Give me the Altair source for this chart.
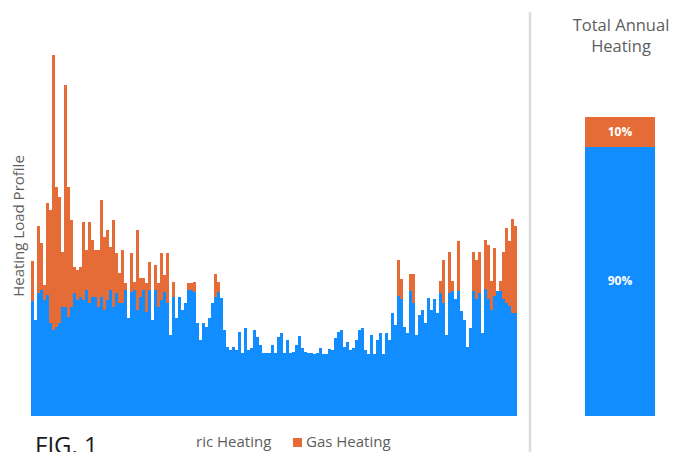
import altair as alt
import pandas as pd

# Hourly-profile bars (arbitrary load units)
ELECTRIC = [115, 96, 123, 126, 116, 121, 93, 86, 89, 93, 109, 109, 99, 109, 123, 116, 119, 116, 126, 113,
            119, 119, 109, 119, 106, 116, 126, 109, 123, 113, 113, 126, 98, 124, 126, 106, 119, 126, 104, 126,
            96, 126, 109, 116, 124, 113, 81, 119, 98, 119, 106, 113, 126, 126, 124, 93, 76, 93, 89, 98,
            113, 119, 124, 118, 86, 69, 66, 69, 66, 84, 63, 88, 66, 68, 86, 79, 71, 63, 63, 63,
            71, 63, 79, 83, 63, 76, 63, 64, 71, 80, 68, 64, 63, 63, 62, 63, 68, 62, 62, 67,
            66, 78, 84, 86, 69, 74, 66, 68, 76, 86, 88, 66, 62, 81, 62, 76, 83, 62, 83, 76,
            103, 91, 120, 117, 89, 83, 125, 113, 81, 101, 106, 93, 118, 106, 117, 103, 123, 113, 81, 123,
            125, 117, 125, 105, 96, 69, 88, 125, 117, 123, 83, 127, 117, 106, 120, 125, 125, 117, 113, 110,
            103, 103]
GAS = [40, 0, 67, 47, 15, 92, 113, 275, 140, 126, 55, 222, 130, 87, 26, 30, 30, 78, 40, 81,
       57, 47, 57, 97, 73, 70, 43, 87, 40, 30, 53, 7, 0, 39, 8, 80, 19, 12, 29, 28,
       0, 25, 24, 47, 17, 50, 0, 15, 0, 0, 0, 0, 7, 7, 10, 0, 0, 0, 0, 0,
       0, 23, 10, 0, 0, 0, 0, 0, 0, 0, 0, 0, 0, 0, 0, 0, 0, 0, 0, 0,
       0, 0, 0, 0, 0, 0, 0, 0, 0, 0, 0, 0, 0, 0, 0, 0, 0, 0, 0, 0,
       0, 0, 0, 0, 0, 0, 0, 0, 0, 0, 0, 0, 0, 0, 0, 0, 0, 0, 0, 0,
       0, 0, 36, 20, 0, 0, 17, 29, 0, 0, 0, 0, 0, 0, 0, 0, 12, 43, 0, 41,
       10, 0, 50, 0, 0, 0, 0, 39, 39, 41, 0, 49, 54, 29, 48, 0, 10, 47, 75, 65,
       94, 87]

SERIES = ["Electric Heating", "Gas Heating"]
COLORS = ["#118DFF", "#E66C37"]
SHARE = [90, 10]
SHARE_LABELS = ["90%", "10%"]
Y_TITLE = "Heating Load Profile"
RIGHT_TITLE = ["Total Annual", "Heating"]
LEGEND_TEXT = ["ric Heating", "Gas Heating"]
FIG_LABEL = "FIG. 1"

FONT = "Open Sans"
GREY = "#605E5C"

rows = []
for i, (e, g) in enumerate(zip(ELECTRIC, GAS)):
    rows.append({"i": i, "series": SERIES[0], "v": e, "ord": 0})
    rows.append({"i": i, "series": SERIES[1], "v": g, "ord": 1})
hourly = pd.DataFrame(rows)

starts, ends, mids = [], [], []
acc = 0
for s in SHARE:
    starts.append(acc)
    ends.append(acc + s)
    mids.append(acc + s / 2)
    acc += s
share_df = pd.DataFrame({"series": SERIES, "start": starts, "end": ends, "mid": mids,
                         "label": SHARE_LABELS, "x0": 0, "x1": 1, "xm": 0.5})

color_scale = alt.Scale(domain=SERIES, range=COLORS)

left = alt.Chart(hourly).mark_bar().encode(
    x=alt.X("i:O", axis=None, scale=alt.Scale(paddingInner=0, paddingOuter=0)),
    y=alt.Y("v:Q", stack="zero", axis=None, scale=alt.Scale(domain=[0, 379])),
    color=alt.Color("series:N", scale=color_scale, legend=None),
    order=alt.Order("ord:Q"),
)

xs = alt.Scale(domain=[0, 1], range=[554, 624])
ys = alt.Scale(domain=[0, 100], range=[379, 80])
right_bar = alt.Chart(share_df).mark_bar().encode(
    x=alt.X("x0:Q", scale=xs, axis=None), x2="x1",
    y=alt.Y("start:Q", scale=ys, axis=None), y2="end",
    color=alt.Color("series:N", scale=color_scale, legend=None),
)
right_text = alt.Chart(share_df).mark_text(color="white", fontWeight="bold", fontSize=12, font=FONT).encode(
    x=alt.X("xm:Q", scale=xs, axis=None),
    y=alt.Y("mid:Q", scale=ys, axis=None),
    text="label:N",
)
right = alt.layer(right_bar, right_text)

one = pd.DataFrame({"k": [0]})


def txt(s, x, y, **kw):
    return alt.Chart(one).mark_text(text=s, font=FONT, **kw).encode(x=alt.value(x), y=alt.value(y))


sep = alt.Chart(one).mark_rule(color="#dcdcdc", strokeWidth=2.5).encode(
    x=alt.value(499), y=alt.value(-25), y2=alt.value(425))
square = alt.Chart(one).mark_rect(color=COLORS[1]).encode(
    x=alt.value(262), x2=alt.value(271), y=alt.value(401), y2=alt.value(410))

annotations = [
    txt(Y_TITLE, -12, 189, angle=270, align="center", baseline="middle", fontSize=15, color=GREY),
    txt(RIGHT_TITLE[0], 590, -6, align="center", baseline="alphabetic", fontSize=16.5, color=GREY),
    txt(RIGHT_TITLE[1], 590, 15, align="center", baseline="alphabetic", fontSize=16.5, color=GREY),
    txt(LEGEND_TEXT[0], 165, 410, align="left", baseline="alphabetic", fontSize=15, color=GREY),
    txt(LEGEND_TEXT[1], 275, 410, align="left", baseline="alphabetic", fontSize=15, color=GREY),
    txt(FIG_LABEL, 4, 417, align="left", baseline="alphabetic", fontSize=24, color="#1a1a1a"),
]

chart = alt.layer(left, right, sep, square, *annotations).resolve_scale(
    x="independent", y="independent"
).properties(
    width=486, height=379,
    autosize=alt.AutoSizeParams(type="none"),
    padding={"left": 23, "top": 29, "right": 160, "bottom": 40},
).configure_view(stroke=None)

chart.save("out.html", embed_options={"renderer": "svg", "actions": False})
